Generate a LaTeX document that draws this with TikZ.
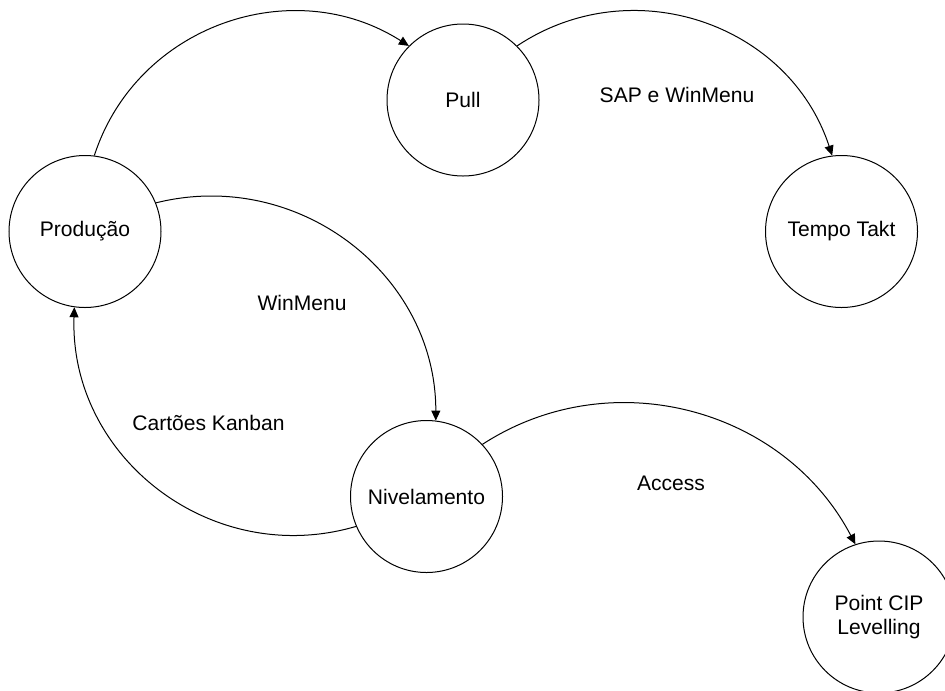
\documentclass[tikz,border=0pt]{standalone}
\usepackage{fontspec}
\setmainfont{Liberation Sans}
\usetikzlibrary{arrows.meta}
\begin{document}
\begin{tikzpicture}[x=0.75pt,y=-0.75pt,
  state/.style={circle,draw,line width=0.75pt,minimum size=114pt,inner sep=0pt,align=center,font=\fontsize{15.8}{18}\selectfont},
  lbl/.style={font=\fontsize{15.8}{18}\selectfont,inner sep=0pt},
  conn/.style={line width=0.75pt,-{Triangle[length=7.5pt,width=6.75pt]}}]
\useasboundingbox (0,0) rectangle (945,690);
\clip (0,0) rectangle (945,690);
\node[state] (prod) at (85,231.5) {Produção};
\node[state] (pull) at (463,100) {Pull};
\node[state] (tempo) at (841.5,231.5) {Tempo Takt};
\node[state] (niv) at (426.5,496.5) {Nivelamento};
\node[state] (cip) at (879,617) {Point CIP\\Levelling};
\draw[conn] (prod.83) to[out=72,in=147.5,looseness=1.055] (pull.135);
\draw[conn] (pull.45) to[out=33.7,in=108.1,looseness=1.062] (tempo.97);
\draw[conn] (prod.22) to[out=14,in=90,looseness=1.054] (niv.83);
\draw[conn] (niv.203) to[out=196.4,in=268,looseness=1.075] (prod.262);
\draw[conn] (niv.43) to[out=33,in=117.6,looseness=1.018] (cip.108);
\node[lbl] (l1) at (677,95) {SAP e WinMenu};
\node[lbl] (l2) at (302,303) {WinMenu};
\node[lbl] (l3) at (208.5,423) {Cartões Kanban};
\node[lbl] (l4) at (671,483) {Access};
\end{tikzpicture}
\end{document}
